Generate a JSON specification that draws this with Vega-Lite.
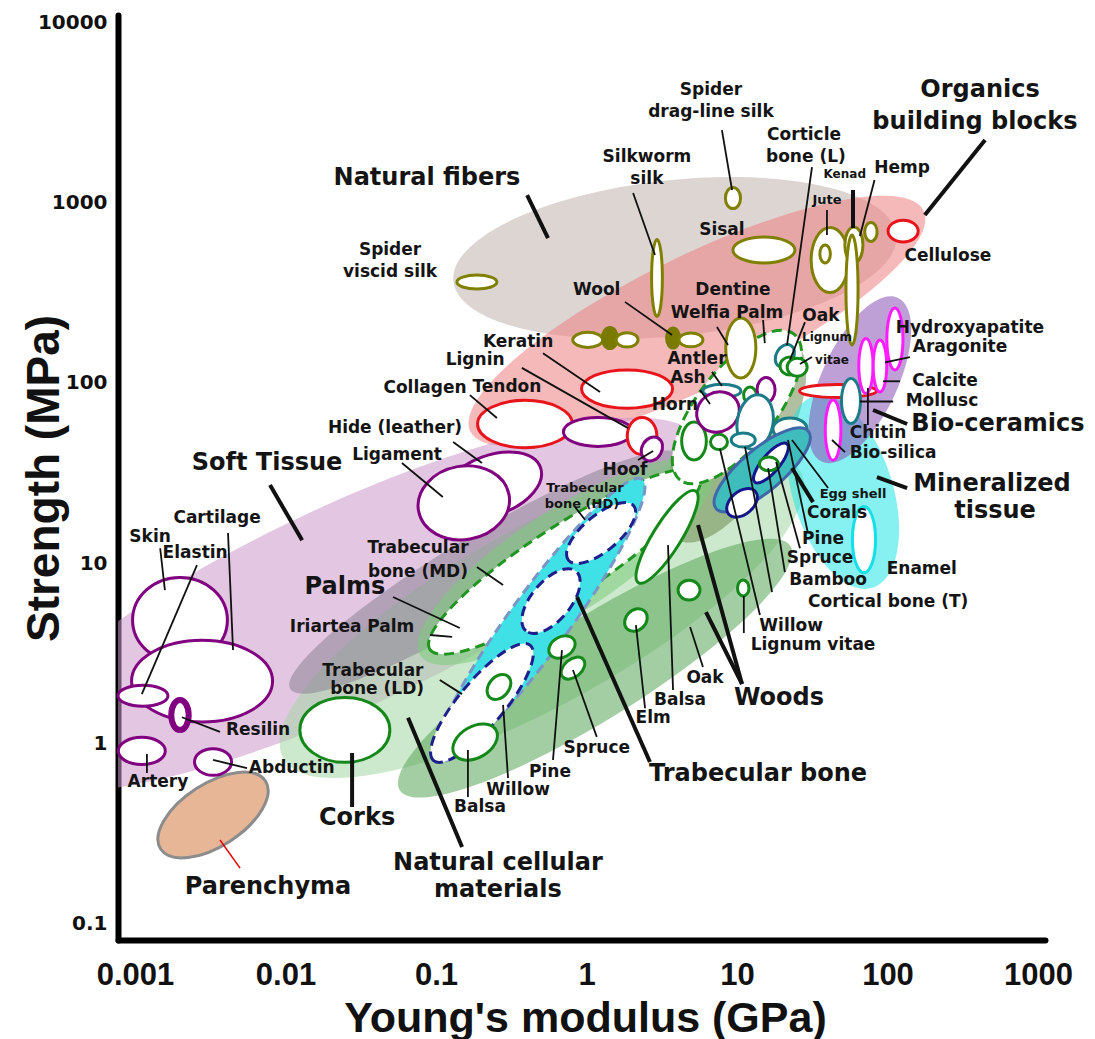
{
"$schema":"https://vega.github.io/schema/vega-lite/v6.json",
"width":927,"height":925,
"autosize":{"type":"none"},
"padding":{"left":118,"top":15,"right":50,"bottom":99},
"background":"#ffffff",
"config":{"view":{"stroke":null},"axis":{"grid":false}},
"datasets":{
"envelopes":[
{"name":"Natural fibers","class":"Natural fibers","E":3.87,"S":492,"span":2.96,"form":"r35","tilt":6},
{"name":"Organics building blocks","class":"Organics","E":5.42,"S":220,"span":3.35,"form":"r26","tilt":26},
{"name":"Soft tissue","class":"Soft tissue","E":0.0268,"S":5.87,"span":5.14,"form":"r26","tilt":25},
{"name":"Natural cellular materials","class":"Natural cellular","E":0.506,"S":5.16,"span":3.93,"form":"r30","tilt":29},
{"name":"Palms (outer)","class":"Palms envelope","E":0.212,"S":8.93,"span":3.02,"form":"r17","tilt":31},
{"name":"Woods (perpendicular)","class":"Woods","E":1.14,"S":2.62,"span":3.06,"form":"r22","tilt":32},
{"name":"Woods (parallel)","class":"Woods (parallel)","E":9.70,"S":48.2,"span":1.53,"form":"r42","tilt":60},
{"name":"Mineralized tissue","class":"Mineralized tissue","E":50.6,"S":24.8,"span":1.33,"form":"r50","tilt":-73},
{"name":"Bio-ceramics","class":"Bio-ceramics","E":65.6,"S":104,"span":1.2,"form":"r42","tilt":65},
{"name":"Palms (halo)","class":"Palms halo","E":0.719,"S":10.2,"span":2.29,"form":"r30","tilt":33}
],
"dashed":[
{"name":"Palms","class":"palm","E":0.719,"S":10.2,"span":2.14,"form":"r22","tilt":33},
{"name":"Palms (upper)","class":"palm","E":10.0,"S":73.4,"span":1.23,"form":"r42","tilt":52},
{"name":"Trabecular bone","class":"trabecular envelope","E":0.491,"S":4.84,"span":2.31,"form":"r17","tilt":54},
{"name":"Trabecular bone (HD)","class":"trabecular","E":1.25,"S":14.7,"span":0.565,"form":"r42","tilt":40},
{"name":"Trabecular bone (MD)","class":"trabecular","E":0.581,"S":6.17,"span":0.518,"form":"r50","tilt":50},
{"name":"Trabecular bone (LD)","class":"trabecular","E":0.202,"S":1.68,"span":1.0,"form":"r30","tilt":50}
],
"bubbles":[
{"name":"Parenchyma","class":"parenchyma","E":0.0033,"S":0.402,"span":0.83,"form":"r50","tilt":33},
{"name":"Corks","class":"cork","E":0.0248,"S":1.19,"span":0.598,"form":"r72","tilt":0},
{"name":"Skin","class":"protein","E":0.00199,"S":4.84,"span":0.63,"form":"r90","tilt":0},
{"name":"Cartilage","class":"protein","E":0.00279,"S":2.22,"span":0.937,"form":"r58","tilt":0},
{"name":"Elastin","class":"protein","E":0.00113,"S":1.84,"span":0.332,"form":"r42","tilt":0},
{"name":"Resilin","class":"elastomer","E":0.00199,"S":1.44,"span":0.2,"form":"r58","tilt":90},
{"name":"Artery","class":"protein","E":0.00111,"S":0.910,"span":0.312,"form":"r58","tilt":0},
{"name":"Abductin","class":"protein","E":0.0033,"S":0.791,"span":0.246,"form":"r72","tilt":0},
{"name":"Hide (leather)","class":"protein","E":0.236,"S":27.1,"span":0.684,"form":"r58","tilt":20},
{"name":"Ligament","class":"protein","E":0.153,"S":21.6,"span":0.611,"form":"r80","tilt":10},
{"name":"Collagen","class":"organic","E":0.390,"S":59.1,"span":0.63,"form":"r50","tilt":0},
{"name":"Tendon","class":"protein","E":1.19,"S":53.4,"span":0.458,"form":"r42","tilt":0},
{"name":"Keratin","class":"organic","E":1.86,"S":92.4,"span":0.605,"form":"r42","tilt":0},
{"name":"Lignin","class":"organic","E":2.34,"S":50.7,"span":0.246,"form":"r80","tilt":90},
{"name":"Hoof","class":"protein","E":2.72,"S":43.0,"span":0.166,"form":"r80","tilt":60},
{"name":"Spider viscid silk","class":"fiber","E":0.187,"S":362,"span":0.266,"form":"r35","tilt":0},
{"name":"Silkworm silk","class":"fiber","E":2.94,"S":381,"span":0.512,"form":"r14","tilt":90},
{"name":"Spider drag-line silk","class":"fiber","E":9.40,"S":1057,"span":0.14,"form":"r72","tilt":90},
{"name":"Sisal","class":"fiber","E":15.1,"S":545,"span":0.412,"form":"r42","tilt":0},
{"name":"Jute","class":"fiber","E":41.5,"S":480,"span":0.432,"form":"r58","tilt":90},
{"name":"Jute (inner)","class":"fiber","E":38.5,"S":518,"span":0.12,"form":"r58","tilt":90},
{"name":"Kenad","class":"fiber","E":59.8,"S":581,"span":0.24,"form":"r50","tilt":90},
{"name":"Hemp","class":"fiber","E":58.1,"S":327,"span":0.73,"form":"r11","tilt":90},
{"name":"Hemp (small)","class":"fiber","E":77.6,"S":686,"span":0.126,"form":"r65","tilt":90},
{"name":"Natural fiber a","class":"fiber","E":1.02,"S":173,"span":0.2,"form":"r50","tilt":0},
{"name":"Natural fiber b","class":"fiber (dense)","E":1.43,"S":177,"span":0.14,"form":"r72","tilt":90},
{"name":"Natural fiber c","class":"fiber","E":1.86,"S":173,"span":0.146,"form":"r65","tilt":0},
{"name":"Wool","class":"fiber (dense)","E":3.76,"S":177,"span":0.133,"form":"r65","tilt":90},
{"name":"Wool (b)","class":"fiber","E":4.94,"S":173,"span":0.16,"form":"r58","tilt":0},
{"name":"Cellulose","class":"organic","E":127,"S":694,"span":0.2,"form":"r72","tilt":0},
{"name":"Dentine","class":"fiber","E":10.6,"S":156,"span":0.4,"form":"r50","tilt":90},
{"name":"Balsa (perpendicular)","class":"wood","E":0.182,"S":1.02,"span":0.32,"form":"r65","tilt":30},
{"name":"Willow (perpendicular)","class":"wood","E":0.262,"S":2.06,"span":0.186,"form":"r72","tilt":50},
{"name":"Pine (perpendicular)","class":"wood","E":0.687,"S":3.43,"span":0.186,"form":"r72","tilt":30},
{"name":"Spruce (perpendicular)","class":"wood","E":0.813,"S":2.62,"span":0.18,"form":"r65","tilt":40},
{"name":"Elm","class":"wood","E":2.13,"S":4.84,"span":0.166,"form":"r80","tilt":45},
{"name":"Oak (perpendicular)","class":"wood","E":4.80,"S":7.10,"span":0.146,"form":"r90","tilt":0},
{"name":"Lignum vitae (perpendicular)","class":"wood","E":11.0,"S":7.29,"span":0.106,"form":"r72","tilt":90},
{"name":"Balsa (parallel)","class":"wood","E":3.43,"S":14.0,"span":0.718,"form":"r26","tilt":58},
{"name":"Palm wood","class":"wood","E":5.18,"S":47.6,"span":0.252,"form":"r65","tilt":90},
{"name":"Willow (parallel)","class":"wood","E":7.59,"S":47.0,"span":0.113,"form":"r90","tilt":0},
{"name":"Antler","class":"bone","E":7.94,"S":90.1,"span":0.252,"form":"r35","tilt":0},
{"name":"Horn","class":"protein","E":7.48,"S":68.9,"span":0.29,"form":"r90","tilt":30},
{"name":"Ash (parallel)","class":"wood","E":12.2,"S":85.5,"span":0.106,"form":"r80","tilt":90},
{"name":"Protein (stiff)","class":"protein","E":15.6,"S":91.2,"span":0.166,"form":"r72","tilt":90},
{"name":"Cortical bone (T)","class":"bone","E":13.2,"S":60.6,"span":0.365,"form":"r65","tilt":80},
{"name":"Cortical bone","class":"bone","E":11.0,"S":48.2,"span":0.16,"form":"r58","tilt":0},
{"name":"Egg shell","class":"bone","E":22.5,"S":55.5,"span":0.226,"form":"r65","tilt":0},
{"name":"Corticle bone (L)","class":"bone","E":20.8,"S":141,"span":0.16,"form":"r72","tilt":60},
{"name":"Oak (parallel)","class":"wood","E":22.5,"S":124,"span":0.133,"form":"r90","tilt":0},
{"name":"Lignum vitae (parallel)","class":"wood","E":25.1,"S":122,"span":0.133,"form":"r90","tilt":0},
{"name":"Chitin","class":"organic","E":46.9,"S":90.1,"span":0.512,"form":"r17","tilt":0},
{"name":"Mollusc","class":"bone","E":57.2,"S":79.3,"span":0.3,"form":"r42","tilt":90},
{"name":"Corals","class":"coral","E":14.7,"S":32.9,"span":0.8,"form":"r35","tilt":40},
{"name":"Shell a","class":"shell","E":10.8,"S":21.6,"span":0.233,"form":"r65","tilt":40},
{"name":"Shell b","class":"shell","E":16.8,"S":35.9,"span":0.332,"form":"r35","tilt":50},
{"name":"Pine (parallel)","class":"wood","E":16.3,"S":35.5,"span":0.126,"form":"r72","tilt":0},
{"name":"Bio-silica","class":"ceramic","E":43.5,"S":54.7,"span":0.4,"form":"r26","tilt":90},
{"name":"Calcite","class":"ceramic","E":71.9,"S":124,"span":0.365,"form":"r26","tilt":90},
{"name":"Aragonite","class":"ceramic","E":89.1,"S":124,"span":0.346,"form":"r26","tilt":90},
{"name":"Hydroxyapatite","class":"ceramic","E":112,"S":175,"span":0.412,"form":"r26","tilt":90},
{"name":"Enamel","class":"enamel","E":69.8,"S":13.5,"span":0.44,"form":"r35","tilt":90}
],
"leaders":[
{"E":7.94,"S":2518,"E2":9.27,"S2":1172,"level":"item"},
{"E":31.5,"S":1571,"E2":21.5,"S2":162,"level":"item"},
{"E":2.04,"S":1127,"E2":2.85,"S2":511,"level":"item"},
{"E":59.0,"S":1172,"E2":59.0,"S2":721,"level":"group"},
{"E":39.6,"S":908,"E2":39.6,"S2":659,"level":"item"},
{"E":82.0,"S":1331,"E2":65.6,"S2":651,"level":"item"},
{"E":445,"S":2218,"E2":177,"S2":851,"level":"group"},
{"E":0.403,"S":1099,"E2":0.555,"S2":635,"level":"group"},
{"E":1.80,"S":281,"E2":3.70,"S2":184,"level":"item"},
{"E":14.9,"S":223,"E2":15.3,"S2":166,"level":"item"},
{"E":7.36,"S":204,"E2":8.71,"S2":162,"level":"item"},
{"E":28.3,"S":217,"E2":22.5,"S2":134,"level":"item"},
{"E":31.5,"S":139,"E2":26.2,"S2":127,"level":"item"},
{"E":141,"S":139,"E2":96.2,"S2":130,"level":"item"},
{"E":121,"S":102,"E2":93.3,"S2":102,"level":"item"},
{"E":109,"S":78.8,"E2":65.6,"S2":78.8,"level":"item"},
{"E":74.1,"S":93.6,"E2":74.1,"S2":58.3,"level":"item"},
{"E":135,"S":59.1,"E2":80.2,"S2":70.7,"level":"group"},
{"E":52.2,"S":41.3,"E2":42.8,"S2":48.2,"level":"item"},
{"E":135,"S":26.1,"E2":85.1,"S2":30.0,"level":"group"},
{"E":40.3,"S":26.1,"E2":23.2,"S2":48.2,"level":"item"},
{"E":32.0,"S":21.8,"E2":23.2,"S2":33.7,"level":"group"},
{"E":29.6,"S":14.7,"E2":21.8,"S2":48.2,"level":"item"},
{"E":26.2,"S":12.1,"E2":18.2,"S2":36.4,"level":"item"},
{"E":20.8,"S":8.93,"E2":16.1,"S2":33.7,"level":"item"},
{"E":17.1,"S":6.92,"E2":11.3,"S2":44.1,"level":"item"},
{"E":14.2,"S":5.16,"E2":7.71,"S2":43.0,"level":"item"},
{"E":11.1,"S":4.10,"E2":11.1,"S2":6.58,"level":"item"},
{"E":10.8,"S":2.14,"E2":6.22,"S2":5.36,"level":"group"},
{"E":10.8,"S":2.14,"E2":5.51,"S2":16.3,"level":"group"},
{"E":4.88,"S":4.43,"E2":5.94,"S2":2.66,"level":"item"},
{"E":3.76,"S":1.98,"E2":3.48,"S2":12.6,"level":"item"},
{"E":2.13,"S":4.54,"E2":2.45,"S2":1.57,"level":"item"},
{"E":0.813,"S":2.56,"E2":1.17,"S2":1.09,"level":"item"},
{"E":0.687,"S":3.30,"E2":0.599,"S2":0.811,"level":"item"},
{"E":0.279,"S":1.64,"E2":0.301,"S2":0.645,"level":"item"},
{"E":0.163,"S":0.922,"E2":0.163,"S2":0.506,"level":"item"},
{"E":0.0652,"S":1.39,"E2":0.149,"S2":0.267,"level":"group"},
{"E":0.865,"S":6.50,"E2":2.64,"S2":0.791,"level":"group"},
{"E":0.106,"S":2.25,"E2":0.149,"S2":1.88,"level":"item"},
{"E":0.0277,"S":0.887,"E2":0.0277,"S2":0.445,"level":"group"},
{"E":0.0912,"S":4.00,"E2":0.128,"S2":3.90,"level":"item"},
{"E":0.0518,"S":6.50,"E2":0.144,"S2":4.37,"level":"item"},
{"E":0.187,"S":9.53,"E2":0.279,"S2":7.57,"level":"item"},
{"E":0.839,"S":20.5,"E2":0.977,"S2":17.4,"level":"item"},
{"E":2.20,"S":37.3,"E2":2.77,"S2":41.9,"level":"item"},
{"E":0.0594,"S":35.9,"E2":0.111,"S2":23.3,"level":"item"},
{"E":0.130,"S":47.0,"E2":0.202,"S2":35.9,"level":"item"},
{"E":0.00789,"S":27.1,"E2":0.0129,"S2":13.4,"level":"group"},
{"E":0.00415,"S":14.7,"E2":0.00448,"S2":3.30,"level":"item"},
{"E":0.00147,"S":12.1,"E2":0.00158,"S2":7.10,"level":"item"},
{"E":0.00258,"S":9.77,"E2":0.00111,"S2":1.88,"level":"item"},
{"E":0.00205,"S":1.40,"E2":0.00367,"S2":1.16,"level":"item"},
{"E":0.00120,"S":0.875,"E2":0.00120,"S2":0.687,"level":"item"},
{"E":0.00330,"S":0.811,"E2":0.00555,"S2":0.732,"level":"item"},
{"E":0.00367,"S":0.292,"E2":0.00499,"S2":0.204,"level":"pointer"},
{"E":0.168,"S":85.5,"E2":0.254,"S2":63.8,"level":"item"},
{"E":0.514,"S":146,"E2":1.23,"S2":88.9,"level":"item"},
{"E":0.372,"S":121,"E2":1.89,"S2":56.1,"level":"item"},
{"E":6.82,"S":115,"E2":7.94,"S2":96.0,"level":"item"},
{"E":5.68,"S":91.2,"E2":6.62,"S2":76.3,"level":"item"}
],
"labels":[
{"label":"Spider","E":6.71,"S":4200,"level":"item"},
{"label":"drag-line silk","E":6.71,"S":3170,"level":"item"},
{"label":"Corticle","E":27.9,"S":2364,"level":"item"},
{"label":"bone (L)","E":28.7,"S":1786,"level":"item"},
{"label":"Organics","E":412,"S":4198,"level":"group"},
{"label":"building blocks","E":381,"S":2792,"level":"group"},
{"label":"Silkworm","E":2.52,"S":1786,"level":"item"},
{"label":"silk","E":2.52,"S":1349,"level":"item"},
{"label":"Natural fibers","E":0.0871,"S":1365,"level":"group"},
{"label":"Hemp","E":125,"S":1552,"level":"item"},
{"label":"Kenad","E":52.0,"S":1437,"level":"tiny"},
{"label":"Jute","E":39.6,"S":1031,"level":"small"},
{"label":"Sisal","E":7.94,"S":703,"level":"item"},
{"label":"Cellulose","E":252,"S":505,"level":"item"},
{"label":"Spider","E":0.0495,"S":545,"level":"item"},
{"label":"viscid silk","E":0.0495,"S":411,"level":"item"},
{"label":"Wool","E":1.17,"S":327,"level":"item"},
{"label":"Dentine","E":9.40,"S":327,"level":"item"},
{"label":"Welfia Palm","E":8.58,"S":244,"level":"item"},
{"label":"Oak","E":36.1,"S":235,"level":"item"},
{"label":"Lignum","E":39.6,"S":179,"level":"tiny"},
{"label":"vitae","E":42.8,"S":134,"level":"tiny"},
{"label":"Hydroxyapatite","E":353,"S":201,"level":"item"},
{"label":"Aragonite","E":303,"S":158,"level":"item"},
{"label":"Keratin","E":0.351,"S":168,"level":"item"},
{"label":"Lignin","E":0.182,"S":134,"level":"item"},
{"label":"Antler","E":5.42,"S":136,"level":"item"},
{"label":"Collagen","E":0.0845,"S":93.6,"level":"item"},
{"label":"Tendon","E":0.296,"S":94.8,"level":"item"},
{"label":"Ash","E":4.72,"S":106,"level":"item"},
{"label":"Calcite","E":241,"S":102,"level":"item"},
{"label":"Mollusc","E":230,"S":78.8,"level":"item"},
{"label":"Horn","E":3.87,"S":75.3,"level":"item"},
{"label":"Bio-ceramics","E":542,"S":59.1,"level":"group"},
{"label":"Hide (leather)","E":0.0534,"S":56.1,"level":"item"},
{"label":"Chitin","E":86.5,"S":52.7,"level":"item"},
{"label":"Soft Tissue","E":0.00754,"S":35.9,"level":"group"},
{"label":"Ligament","E":0.0551,"S":39.8,"level":"item"},
{"label":"Hoof","E":1.80,"S":32.9,"level":"item"},
{"label":"Bio-silica","E":109,"S":40.8,"level":"item"},
{"label":"Trabecular","E":0.977,"S":26.1,"level":"small"},
{"label":"bone (HD)","E":0.933,"S":21.3,"level":"small"},
{"label":"Mineralized","E":494,"S":27.5,"level":"group"},
{"label":"tissue","E":518,"S":19.5,"level":"group"},
{"label":"Egg shell","E":59.0,"S":24.2,"level":"small"},
{"label":"Corals","E":46.2,"S":19.0,"level":"item"},
{"label":"Skin","E":0.00126,"S":14.0,"level":"item"},
{"label":"Cartilage","E":0.00351,"S":17.8,"level":"item"},
{"label":"Elastin","E":0.00251,"S":11.4,"level":"item"},
{"label":"Trabecular","E":0.0759,"S":12.1,"level":"item"},
{"label":"bone (MD)","E":0.0759,"S":8.93,"level":"item"},
{"label":"Pine","E":37.3,"S":13.6,"level":"item"},
{"label":"Spruce","E":35.6,"S":10.7,"level":"item"},
{"label":"Enamel","E":169,"S":9.29,"level":"item"},
{"label":"Palms","E":0.0248,"S":7.38,"level":"group"},
{"label":"Bamboo","E":40.3,"S":8.07,"level":"item"},
{"label":"Cortical bone (T)","E":101,"S":6.10,"level":"item"},
{"label":"Iriartea Palm","E":0.0277,"S":4.43,"level":"item"},
{"label":"Willow","E":22.9,"S":4.49,"level":"item"},
{"label":"Lignum vitae","E":32.0,"S":3.52,"level":"item"},
{"label":"Trabecular","E":0.0381,"S":2.53,"level":"item"},
{"label":"bone (LD)","E":0.0406,"S":2.01,"level":"item"},
{"label":"Balsa","E":4.18,"S":1.75,"level":"item"},
{"label":"Oak","E":6.13,"S":2.31,"level":"item"},
{"label":"Woods","E":19.0,"S":1.79,"level":"group"},
{"label":"Elm","E":2.77,"S":1.39,"level":"item"},
{"label":"Resilin","E":0.00657,"S":1.19,"level":"item"},
{"label":"Abductin","E":0.0110,"S":0.732,"level":"item"},
{"label":"Spruce","E":1.17,"S":0.946,"level":"item"},
{"label":"Trabecular bone","E":13.8,"S":0.678,"level":"group"},
{"label":"Pine","E":0.572,"S":0.696,"level":"item"},
{"label":"Artery","E":0.00142,"S":0.612,"level":"item"},
{"label":"Willow","E":0.351,"S":0.553,"level":"item"},
{"label":"Balsa","E":0.196,"S":0.445,"level":"item"},
{"label":"Corks","E":0.0299,"S":0.387,"level":"group"},
{"label":"Natural cellular","E":0.258,"S":0.218,"level":"group"},
{"label":"materials","E":0.258,"S":0.1543,"level":"group"},
{"label":"Parenchyma","E":0.00765,"S":0.160,"level":"group"}
]
},
"encoding":{
"x":{"field":"E","type":"quantitative","scale":{"type":"log","domain":[0.000771,1113],"nice":false},
 "axis":{"values":[0.001,0.01,0.1,1,10,100,1000],"format":"~g","ticks":false,"grid":false,"domainColor":"#000000","domainWidth":6,"domainCap":"round","labelFont":"Liberation Sans Narrow, Liberation Sans","labelFontSize":31,"labelFontWeight":"bold","labelColor":"#111111","labelPadding":20,"labelFlush":false,"labelOverlap":false,"title":"Young's modulus (GPa)","titleFont":"Liberation Sans","titleFontSize":43,"titleFontWeight":"bold","titleColor":"#111111","titleX":467,"titleY":91,"titleBaseline":"alphabetic","titleAlign":"center"}},
"y":{"field":"S","type":"quantitative","scale":{"type":"log","domain":[0.0815,10940],"nice":false},
 "axis":{"values":[0.1,1,10,100,1000,10000],"format":"~g","ticks":false,"grid":false,"domainColor":"#000000","domainWidth":6,"domainCap":"round","labelFont":"DejaVu Sans","labelFontSize":20,"labelFontWeight":"bold","labelColor":"#111111","labelPadding":11,"labelFlush":false,"labelOverlap":false,"title":"Strength (MPa)","titleFont":"Liberation Sans","titleFontSize":46,"titleFontWeight":"bold","titleColor":"#111111","titleX":-60,"titleY":463,"titleAngle":-90,"titleBaseline":"alphabetic","titleAlign":"center"}}
},
"layer":[
{"data":{"name":"envelopes"},
 "mark":{"type":"point","filled":true,"opacity":1,"fillOpacity":0.55,"strokeWidth":0,"clip":true},
 "encoding":{
  "fill":{"field":"class","type":"nominal","legend":null,"scale":{"domain":["Natural fibers","Organics","Soft tissue","Natural cellular","Palms envelope","Woods","Woods (parallel)","Mineralized tissue","Bio-ceramics","Palms halo"],"range":["#bfb3ad","#ed8080","#ca97ca","#a4d7a4","#8c8494","#58a558","#6e8a50","#25e4e4","#8952b6","#7ccc7c"]}},
  "size":{"field":"span","type":"quantitative","legend":null,"scale":{"type":"pow","exponent":2,"domain":[0,1],"range":[0,22650]}},
  "shape":{"field":"form","type":"nominal","legend":null,"scale":{"domain":["r11","r14","r17","r22","r26","r30","r35","r42","r50","r58","r65","r72","r80","r90"],"range":[
"M-1,0C-1,-0.061 -0.552,-0.11 0,-0.11C0.552,-0.11 1,-0.061 1,0C1,0.061 0.552,0.11 0,0.11C-0.552,0.11 -1,0.061 -1,0Z",
"M-1,0C-1,-0.077 -0.552,-0.14 0,-0.14C0.552,-0.14 1,-0.077 1,0C1,0.077 0.552,0.14 0,0.14C-0.552,0.14 -1,0.077 -1,0Z",
"M-1,0C-1,-0.094 -0.552,-0.17 0,-0.17C0.552,-0.17 1,-0.094 1,0C1,0.094 0.552,0.17 0,0.17C-0.552,0.17 -1,0.094 -1,0Z",
"M-1,0C-1,-0.121 -0.552,-0.22 0,-0.22C0.552,-0.22 1,-0.121 1,0C1,0.121 0.552,0.22 0,0.22C-0.552,0.22 -1,0.121 -1,0Z",
"M-1,0C-1,-0.144 -0.552,-0.26 0,-0.26C0.552,-0.26 1,-0.144 1,0C1,0.144 0.552,0.26 0,0.26C-0.552,0.26 -1,0.144 -1,0Z",
"M-1,0C-1,-0.166 -0.552,-0.3 0,-0.3C0.552,-0.3 1,-0.166 1,0C1,0.166 0.552,0.3 0,0.3C-0.552,0.3 -1,0.166 -1,0Z",
"M-1,0C-1,-0.193 -0.552,-0.35 0,-0.35C0.552,-0.35 1,-0.193 1,0C1,0.193 0.552,0.35 0,0.35C-0.552,0.35 -1,0.193 -1,0Z",
"M-1,0C-1,-0.232 -0.552,-0.42 0,-0.42C0.552,-0.42 1,-0.232 1,0C1,0.232 0.552,0.42 0,0.42C-0.552,0.42 -1,0.232 -1,0Z",
"M-1,0C-1,-0.276 -0.552,-0.5 0,-0.5C0.552,-0.5 1,-0.276 1,0C1,0.276 0.552,0.5 0,0.5C-0.552,0.5 -1,0.276 -1,0Z",
"M-1,0C-1,-0.32 -0.552,-0.58 0,-0.58C0.552,-0.58 1,-0.32 1,0C1,0.32 0.552,0.58 0,0.58C-0.552,0.58 -1,0.32 -1,0Z",
"M-1,0C-1,-0.359 -0.552,-0.65 0,-0.65C0.552,-0.65 1,-0.359 1,0C1,0.359 0.552,0.65 0,0.65C-0.552,0.65 -1,0.359 -1,0Z",
"M-1,0C-1,-0.397 -0.552,-0.72 0,-0.72C0.552,-0.72 1,-0.397 1,0C1,0.397 0.552,0.72 0,0.72C-0.552,0.72 -1,0.397 -1,0Z",
"M-1,0C-1,-0.442 -0.552,-0.8 0,-0.8C0.552,-0.8 1,-0.442 1,0C1,0.442 0.552,0.8 0,0.8C-0.552,0.8 -1,0.442 -1,0Z",
"M-1,0C-1,-0.497 -0.552,-0.9 0,-0.9C0.552,-0.9 1,-0.497 1,0C1,0.497 0.552,0.9 0,0.9C-0.552,0.9 -1,0.497 -1,0Z"]}},
  "angle":{"field":"tilt","type":"quantitative","scale":{"domain":[-90,90],"range":[90,-90]}}
 }},
{"data":{"name":"dashed"},
 "mark":{"type":"point","filled":true,"opacity":1,"strokeWidth":3,"strokeDash":[10,6]},
 "encoding":{
  "fill":{"field":"class","type":"nominal","legend":null,"scale":{"domain":["palm","trabecular envelope","trabecular"],"range":["#ffffff","#3fe0e6","#ffffff"]}},
  "stroke":{"field":"class","type":"nominal","legend":null,"scale":{"domain":["palm","trabecular envelope","trabecular"],"range":["#1f961f","#7a96c6","#1e1e8c"]}},
  "size":{"field":"span","type":"quantitative","legend":null,"scale":{"type":"pow","exponent":2,"domain":[0,1],"range":[0,22650]}},
  "shape":{"field":"form","type":"nominal","legend":null},
  "angle":{"field":"tilt","type":"quantitative","scale":{"domain":[-90,90],"range":[90,-90]}}
 }},
{"data":{"name":"bubbles"},
 "mark":{"type":"point","filled":true,"opacity":1,"strokeWidth":3},
 "encoding":{
  "fill":{"field":"class","type":"nominal","legend":null,"scale":{"domain":["fiber","fiber (dense)","organic","protein","elastomer","wood","cork","bone","shell","coral","ceramic","enamel","parenchyma"],"range":["#ffffff","#7a7a00","#ffffff","#ffffff","#ffffff","#ffffff","#ffffff","#ffffff","#ffffff","#3fbcbc","#ffffff","#ffffff","#e7b697"]}},
  "stroke":{"field":"class","type":"nominal","legend":null,"scale":{"domain":["fiber","fiber (dense)","organic","protein","elastomer","wood","cork","bone","shell","coral","ceramic","enamel","parenchyma"],"range":["#808000","#7a7a00","#e8141c","#800080","#800080","#15881a","#15881a","#1b7c88","#15158c","#4068a8","#ff1cff","#14e0e8","#8c8c8c"]}},
  "size":{"field":"span","type":"quantitative","legend":null,"scale":{"type":"pow","exponent":2,"domain":[0,1],"range":[0,22650]}},
  "shape":{"field":"form","type":"nominal","legend":null},
  "angle":{"field":"tilt","type":"quantitative","scale":{"domain":[-90,90],"range":[90,-90]}}
 }},
{"data":{"name":"bubbles"},
 "transform":[{"filter":"datum['class'] === 'elastomer'"}],
 "mark":{"type":"point","filled":false,"opacity":1,"strokeWidth":6,"color":"#800080"},
 "encoding":{
  "size":{"field":"span","type":"quantitative","legend":null,"scale":{"type":"pow","exponent":2,"domain":[0,1],"range":[0,22650]}},
  "shape":{"field":"form","type":"nominal","legend":null},
  "angle":{"field":"tilt","type":"quantitative","scale":{"domain":[-90,90],"range":[90,-90]}}
 }},
{"data":{"name":"leaders"},
 "transform":[{"filter":"datum.level === 'item'"}],
 "mark":{"type":"rule","color":"#111111","strokeWidth":1.8},
 "encoding":{"x2":{"field":"E2"},"y2":{"field":"S2"}}},
{"data":{"name":"leaders"},
 "transform":[{"filter":"datum.level === 'group'"}],
 "mark":{"type":"rule","color":"#111111","strokeWidth":4},
 "encoding":{"x2":{"field":"E2"},"y2":{"field":"S2"}}},
{"data":{"name":"leaders"},
 "transform":[{"filter":"datum.level === 'pointer'"}],
 "mark":{"type":"rule","color":"#e00000","strokeWidth":1.5},
 "encoding":{"x2":{"field":"E2"},"y2":{"field":"S2"}}},
{"data":{"name":"labels"},
 "transform":[{"filter":"datum.level === 'group'"}],
 "mark":{"type":"text","font":"DejaVu Sans","fontWeight":"bold","fontSize":24,"align":"center","baseline":"middle","color":"#141414"},
 "encoding":{"text":{"field":"label"}}},
{"data":{"name":"labels"},
 "transform":[{"filter":"datum.level === 'item'"}],
 "mark":{"type":"text","font":"DejaVu Sans","fontWeight":"bold","fontSize":17,"align":"center","baseline":"middle","color":"#141414"},
 "encoding":{"text":{"field":"label"}}},
{"data":{"name":"labels"},
 "transform":[{"filter":"datum.level === 'small'"}],
 "mark":{"type":"text","font":"DejaVu Sans","fontWeight":"bold","fontSize":13,"align":"center","baseline":"middle","color":"#141414"},
 "encoding":{"text":{"field":"label"}}},
{"data":{"name":"labels"},
 "transform":[{"filter":"datum.level === 'tiny'"}],
 "mark":{"type":"text","font":"DejaVu Sans","fontWeight":"bold","fontSize":12,"align":"center","baseline":"middle","color":"#141414"},
 "encoding":{"text":{"field":"label"}}}
],
"resolve":{"scale":{"fill":"independent","stroke":"independent","size":"independent","color":"independent"}}
}
